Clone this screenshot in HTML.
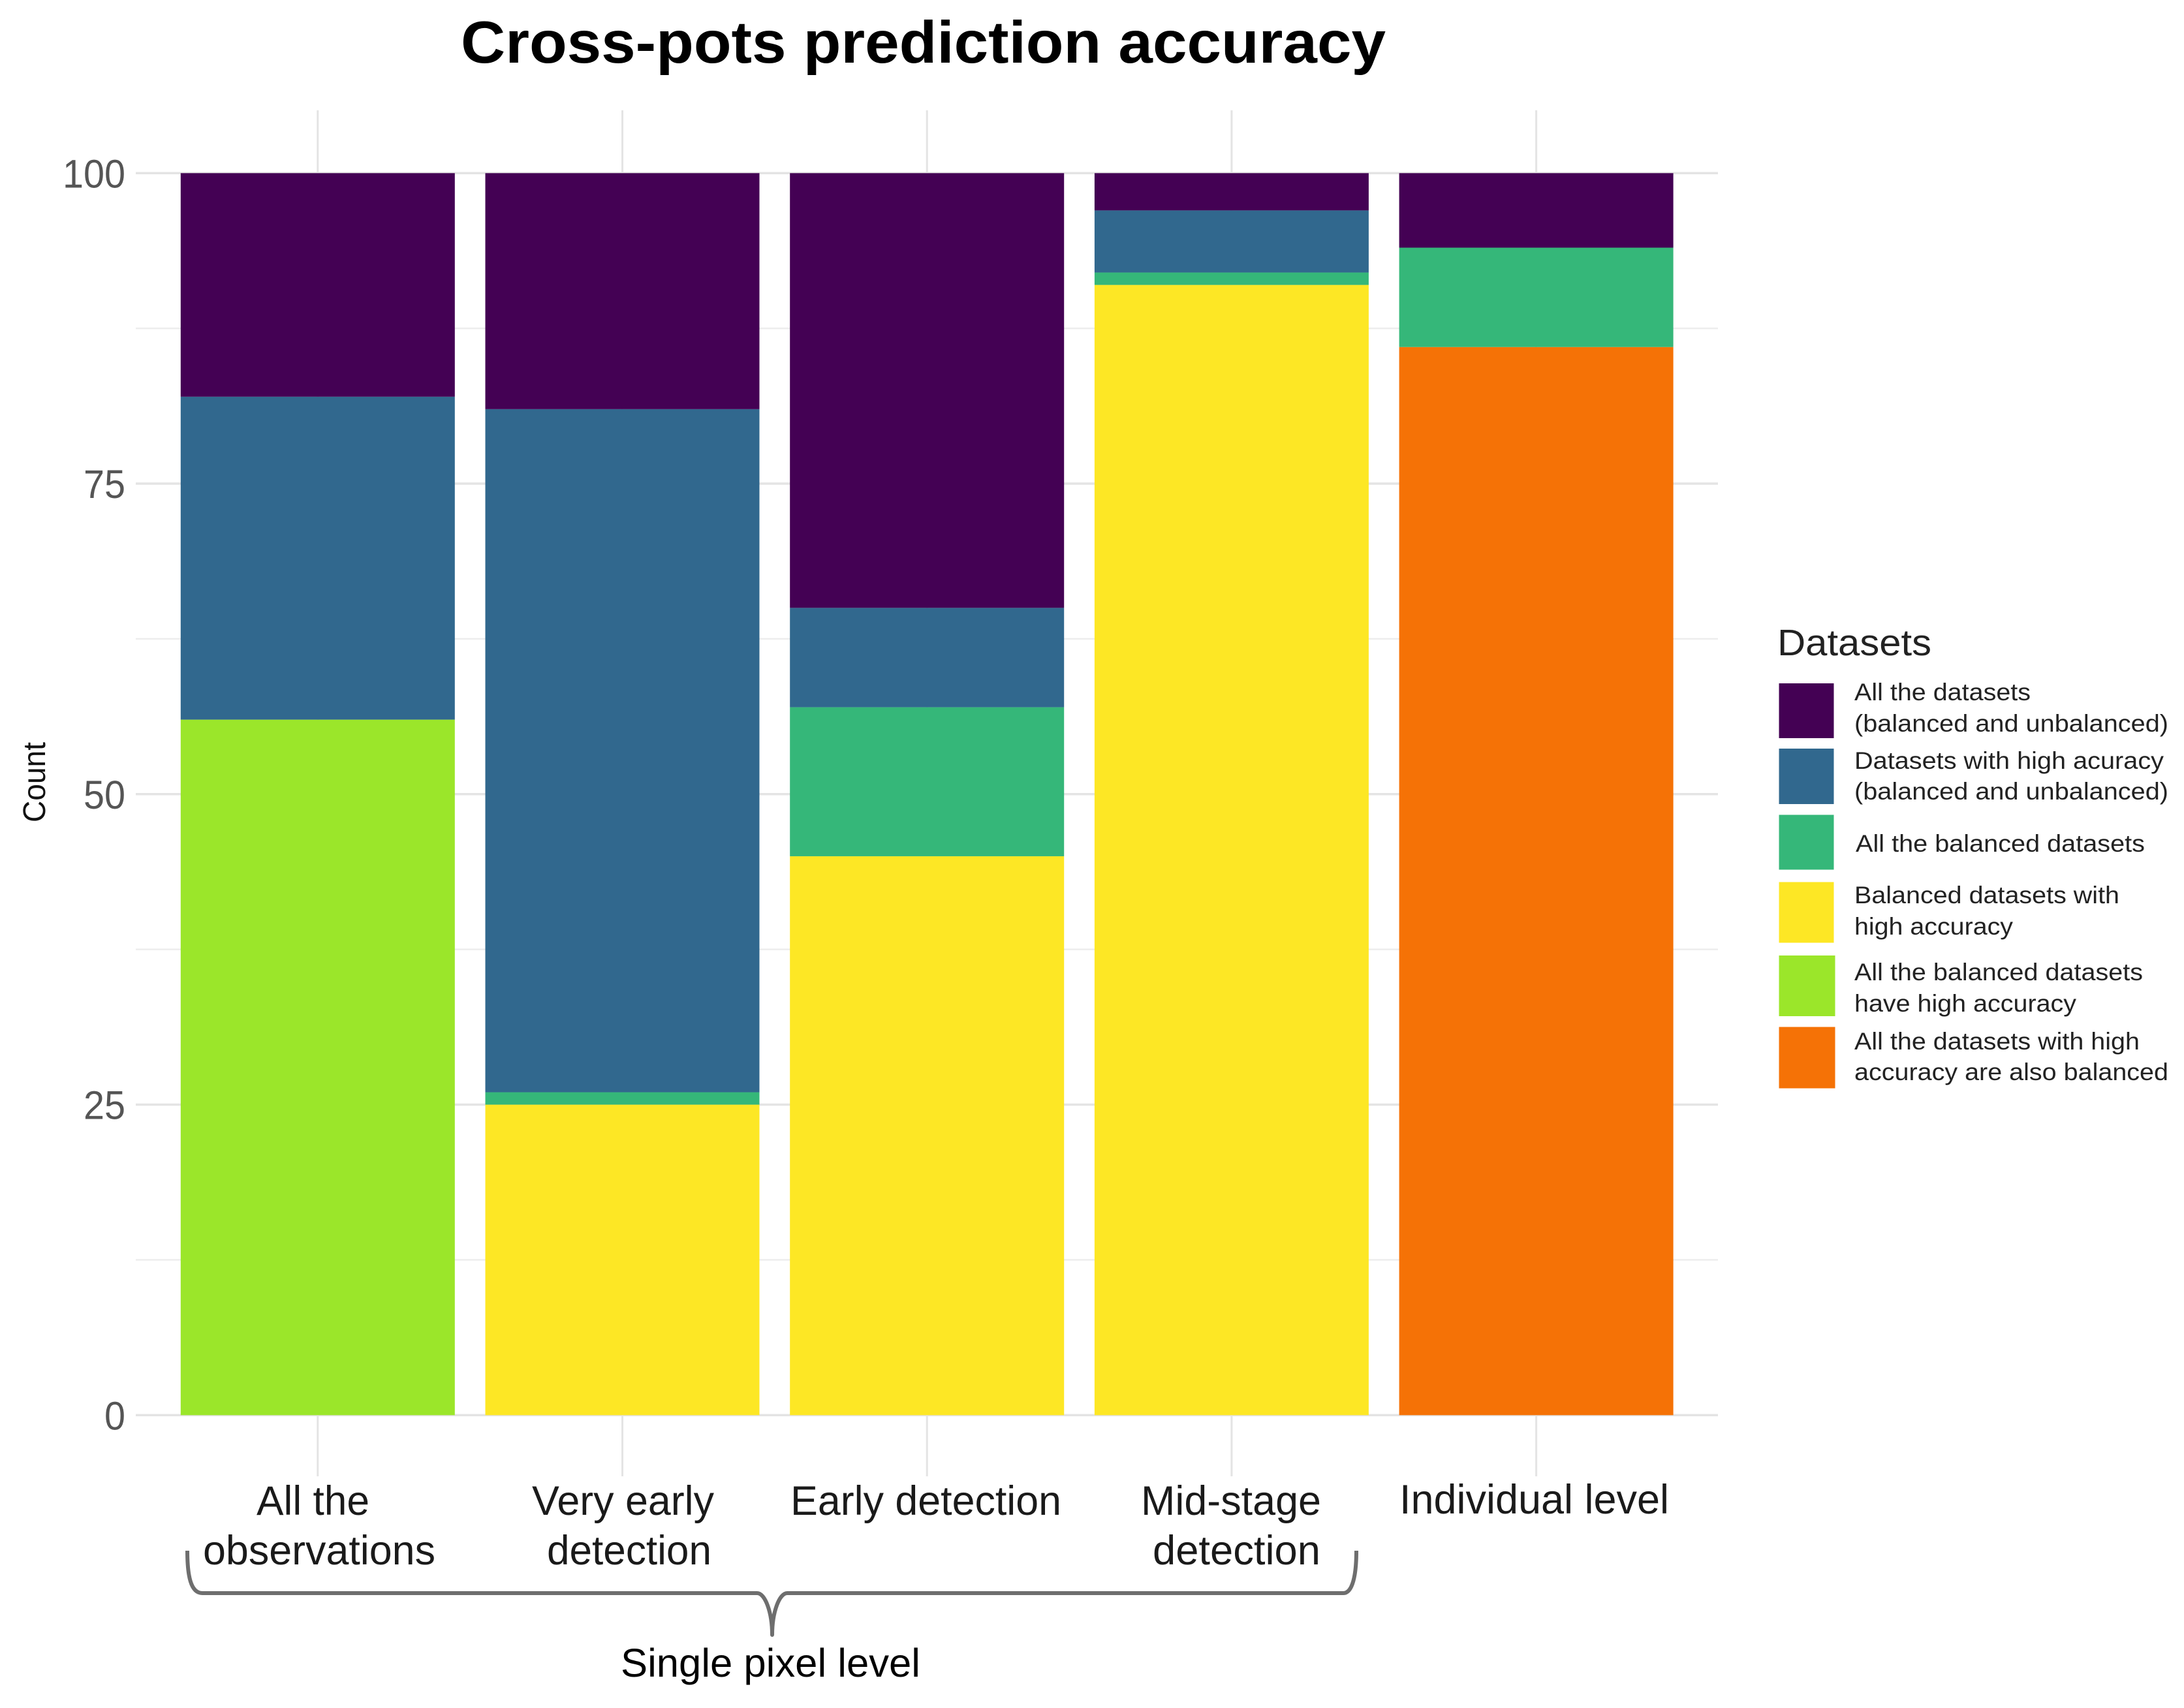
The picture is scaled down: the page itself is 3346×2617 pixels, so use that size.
<!DOCTYPE html>
<html lang="en">
<head>
<meta charset="utf-8">
<title>Cross-pots prediction accuracy</title>
<style>
html,body{margin:0;padding:0;background:#fff;width:3346px;height:2617px;overflow:hidden}
svg{display:block}
text{font-family:"Liberation Sans",Arial,sans-serif}
</style>
</head>
<body>
<svg id="chart" xmlns="http://www.w3.org/2000/svg" width="3346" height="2617" viewBox="0 0 3346 2617">
  <rect x="0" y="0" width="3346" height="2617" fill="#ffffff"/>
  <g id="grid"></g>
  <g id="bars"></g>
  <g id="yticks"></g>

  <text x="706" y="96" font-size="91" font-weight="700" fill="#000" textLength="1417" lengthAdjust="spacingAndGlyphs">Cross-pots prediction accuracy</text>
  <text transform="translate(69,1260) rotate(-90)" font-size="48" fill="#111" textLength="123" lengthAdjust="spacingAndGlyphs">Count</text>

  <g font-size="63" fill="#1a1a1a">
    <text x="393" y="2321" textLength="173" lengthAdjust="spacingAndGlyphs">All the</text>
    <text x="311" y="2397" textLength="356" lengthAdjust="spacingAndGlyphs">observations</text>
    <text x="815" y="2321" textLength="279" lengthAdjust="spacingAndGlyphs">Very early</text>
    <text x="838" y="2397" textLength="252" lengthAdjust="spacingAndGlyphs">detection</text>
    <text x="1211" y="2321" textLength="415" lengthAdjust="spacingAndGlyphs">Early detection</text>
    <text x="1748" y="2321" textLength="276" lengthAdjust="spacingAndGlyphs">Mid-stage</text>
    <text x="1766" y="2397" textLength="257" lengthAdjust="spacingAndGlyphs">detection</text>
    <text x="2144" y="2319" textLength="413" lengthAdjust="spacingAndGlyphs">Individual level</text>
  </g>

  <path d="M287 2376 C287 2414 292 2441 310 2441 L1160 2441 C1172 2441 1183 2470 1183 2505 C1183 2470 1194 2441 1206 2441 L2058 2441 C2072 2441 2078 2414 2078 2376" fill="none" stroke="#6e6e6e" stroke-width="6" stroke-linecap="butt" stroke-linejoin="round"/>
  <text x="951" y="2569" font-size="61" fill="#000" textLength="459" lengthAdjust="spacingAndGlyphs">Single pixel level</text>

  <g>
    <text x="2723" y="1004" font-size="57" fill="#222" textLength="236" lengthAdjust="spacingAndGlyphs">Datasets</text>

    <g>
      <rect x="2725.5" y="1047" width="84" height="84" fill="#440154"/>
      <text x="2841" y="1073" font-size="37" fill="#222" textLength="270" lengthAdjust="spacingAndGlyphs">All the datasets</text>
      <text x="2841" y="1121" font-size="37" fill="#222" textLength="481" lengthAdjust="spacingAndGlyphs">(balanced and unbalanced)</text>
    </g>
    <g>
      <rect x="2725.5" y="1147" width="84" height="85" fill="#31688e"/>
      <text x="2841" y="1178" font-size="37" fill="#222" textLength="474" lengthAdjust="spacingAndGlyphs">Datasets with high acuracy</text>
      <text x="2841" y="1225" font-size="37" fill="#222" textLength="481" lengthAdjust="spacingAndGlyphs">(balanced and unbalanced)</text>
    </g>
    <g>
      <rect x="2725.5" y="1248.5" width="84" height="84" fill="#35b779"/>
      <text x="2843" y="1305" font-size="37" fill="#222" textLength="443" lengthAdjust="spacingAndGlyphs">All the balanced datasets</text>
    </g>
    <g>
      <rect x="2725.5" y="1351.5" width="84" height="93" fill="#fde725"/>
      <text x="2841" y="1384" font-size="37" fill="#222" textLength="406" lengthAdjust="spacingAndGlyphs">Balanced datasets with</text>
      <text x="2841" y="1432" font-size="37" fill="#222" textLength="243" lengthAdjust="spacingAndGlyphs">high accuracy</text>
    </g>
    <g>
      <rect x="2725.5" y="1464" width="86" height="93" fill="#9be62a"/>
      <text x="2841" y="1502" font-size="37" fill="#222" textLength="442" lengthAdjust="spacingAndGlyphs">All the balanced datasets</text>
      <text x="2841" y="1550" font-size="37" fill="#222" textLength="340" lengthAdjust="spacingAndGlyphs">have high accuracy</text>
    </g>
    <g>
      <rect x="2725.5" y="1573.5" width="86" height="94" fill="#f57206"/>
      <text x="2841" y="1608" font-size="37" fill="#222" textLength="437" lengthAdjust="spacingAndGlyphs">All the datasets with high</text>
      <text x="2841" y="1655" font-size="37" fill="#222" textLength="481" lengthAdjust="spacingAndGlyphs">accuracy are also balanced</text>
    </g>
  </g>
</svg>
<script>
const categories = ["All the observations", "Very early detection", "Early detection", "Mid-stage detection", "Individual level"];
const seriesNames = ["all-high-also-balanced", "all-balanced-high", "balanced-high", "all-balanced", "high-accuracy", "all-datasets"];
const seriesColors = ["#f57206", "#9be62a", "#fde725", "#35b779", "#31688e", "#440154"];
const orangeValues = [0, 0, 0, 0, 86];
const limeValues = [56, 0, 0, 0, 0];
const yellowValues = [0, 25, 45, 91, 0];
const greenValues = [0, 1, 12, 1, 8];
const blueValues = [26, 55, 8, 5, 0];
const purpleValues = [18, 19, 35, 3, 6];
const yTicks = [0, 25, 50, 75, 100];
const yMinorTicks = [12.5, 37.5, 62.5, 87.5];

const NS = "http://www.w3.org/2000/svg";
const allSeries = [orangeValues, limeValues, yellowValues, greenValues, blueValues, purpleValues];

function yScale(v) { return 2168.3 - v * 19.03; }
function xCenter(i) { return 486.8 + i * 466.7; }
const BAR_W = 420;

function mk(tag, attrs, parent) {
  const el = document.createElementNS(NS, tag);
  for (const k in attrs) el.setAttribute(k, attrs[k]);
  parent.appendChild(el);
  return el;
}

const grid = document.getElementById("grid");
yMinorTicks.forEach(function (t) {
  const l = mk("line", { x1: 208, x2: 2632, y1: yScale(t), y2: yScale(t), stroke: "#ededed", "stroke-width": 2.5 }, grid);
  
  
});
yTicks.forEach(function (t) {
  const l = mk("line", { x1: 208, x2: 2632, y1: yScale(t), y2: yScale(t), stroke: "#e4e4e4", "stroke-width": 3.5 }, grid);
  
  
});
categories.forEach(function (c, i) {
  const l = mk("line", { x1: xCenter(i), x2: xCenter(i), y1: 169, y2: 2262, stroke: "#e4e4e4", "stroke-width": 3 }, grid);
  
  
});

const barsG = document.getElementById("bars");
categories.forEach(function (c, i) {
  let base = 0;
  allSeries.forEach(function (vals, s) {
    const v = vals[i];
    if (!v) return;
    const top = base + v;
    const r = mk("rect", { x: xCenter(i) - BAR_W / 2, y: yScale(top), width: BAR_W, height: yScale(base) - yScale(top), fill: seriesColors[s] }, barsG);
    
    
    base = top;
  });
});

const tickG = document.getElementById("yticks");
yTicks.forEach(function (t) {
  const label = String(t);
  const el = mk("text", { x: 192, y: yScale(t) + 22, "font-size": 61, fill: "#555555", "text-anchor": "end" }, tickG);
  
  
  el.textContent = label;
  el.setAttribute("textLength", label.length * 32);
  el.setAttribute("lengthAdjust", "spacingAndGlyphs");
});
</script>
</body>
</html>
